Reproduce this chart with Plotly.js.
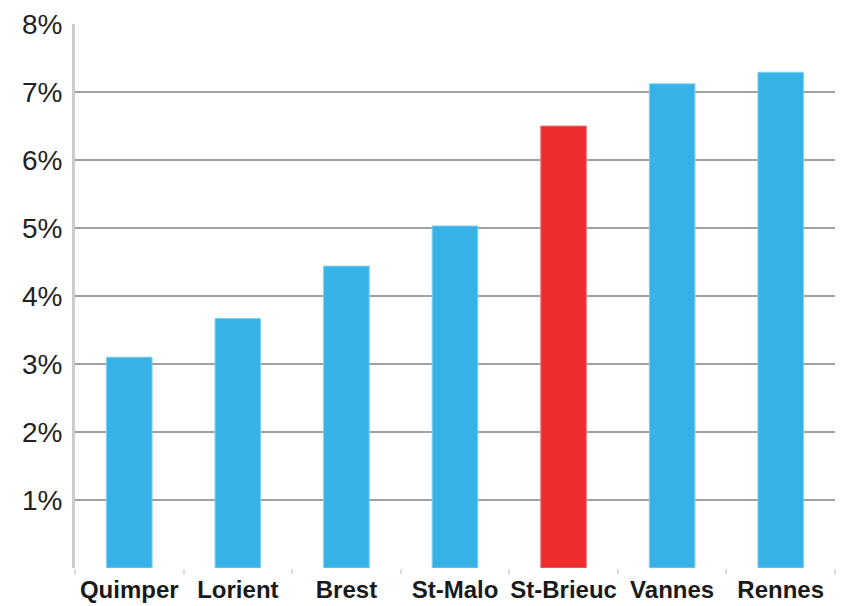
<!DOCTYPE html>
<html>
<head>
<meta charset="utf-8">
<script src="https://cdn.plot.ly/plotly-3.0.1.min.js"></script>
<style>html,body{margin:0;padding:0;background:#fff;}#chart{width:844px;height:606px;}</style>
</head>
<body>
<div id="chart"></div>
<script>
const cities = ["Quimper", "Lorient", "Brest", "St-Malo", "St-Brieuc", "Vannes", "Rennes"];
const rates = [3.10, 3.67, 4.44, 5.03, 6.50, 7.12, 7.29];
const highlighted = "St-Brieuc";
const yTickValues = [1, 2, 3, 4, 5, 6, 7, 8];
const yTickLabels = ["1%", "2%", "3%", "4%", "5%", "6%", "7%", "8%"];

const BLUE = "#37b2e6", RED = "#eb2d2e";
const colors = cities.map(c => c === highlighted ? RED : BLUE);

Plotly.newPlot("chart", [{
  type: "bar",
  x: cities,
  y: rates,
  marker: {color: colors, line: {width: 1, color: cities.map(c => c === highlighted ? "#f27a7a" : "#7fd0f2")}},
  hoverinfo: "x+y"
}], {
  width: 844, height: 606,
  margin: {l: 75, r: 9, t: 24, b: 38},
  paper_bgcolor: "#ffffff", plot_bgcolor: "#ffffff",
  bargap: 0.58,
  showlegend: false,
  xaxis: {
    type: "category",
    tickson: "boundaries",
    tickangle: 0,
    ticks: "outside", ticklen: 5, tickwidth: 2, tickcolor: "#dddddd",
    showline: false, showgrid: false, zeroline: false,
    tickfont: {family: "'Liberation Sans', Arial, sans-serif", size: 24, color: "#1a1a1a", weight: "bold"},
    ticklabelstandoff: 5
  },
  yaxis: {
    range: [0, 8],
    tickvals: yTickValues, ticktext: yTickLabels,
    showline: true, linecolor: "#cccccc", linewidth: 3,
    showgrid: true, gridcolor: "#a0a0a0", gridwidth: 2,
    zeroline: false,
    ticks: "", ticklabelstandoff: 4,
    tickfont: {family: "'Liberation Sans', Arial, sans-serif", size: 28, color: "#222222"}
  }
}, {displayModeBar: false, staticPlot: true});
</script>
</body>
</html>
